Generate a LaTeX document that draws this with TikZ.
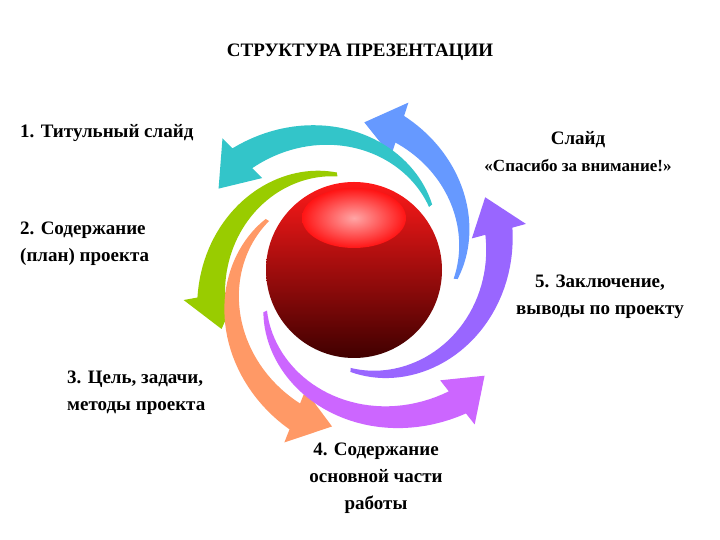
\documentclass[tikz,border=0pt]{standalone}
\usepackage{fontspec}
\setmainfont{Liberation Serif}
\begin{document}
\begin{tikzpicture}[x=1pt,y=1pt,
  lbl/.style={font=\bfseries\fontsize{19}{27}\selectfont, align=left, inner sep=0pt}]
\useasboundingbox (0,0) rectangle (720,540);
\fill[white] (0,0) rectangle (720,540);
\def\cx{354}\def\cy{270}
% #1 color, #2 a0, #3 a1, #4 r0, #5 r1, #6 w0, #7 w1, #8 head half width, #9 delta
\newcommand\swoosh[9]{%
  \fill[#1] plot[domain=0:1,samples=40,variable=\t]
    ({\cx+(#4+(#5-#4)*\t+#6+(#7-#6)*\t)*cos(#2+(#3-#2)*\t)},
     {\cy+(#4+(#5-#4)*\t+#6+(#7-#6)*\t)*sin(#2+(#3-#2)*\t)})
    -- ({\cx+(#5+#8)*cos(#3)},{\cy+(#5+#8)*sin(#3)})
    -- ({\cx+(#5)*cos(#3+#9)},{\cy+(#5)*sin(#3+#9)})
    -- ({\cx+(#5-#8)*cos(#3)},{\cy+(#5-#8)*sin(#3)})
    -- plot[domain=1:0,samples=40,variable=\t]
    ({\cx+(#4+(#5-#4)*\t-#6-(#7-#6)*\t)*cos(#2+(#3-#2)*\t)},
     {\cy+(#4+(#5-#4)*\t-#6-(#7-#6)*\t)*sin(#2+(#3-#2)*\t)}) -- cycle;}
\definecolor{cBlue}{HTML}{6699FF}
\definecolor{cCyan}{HTML}{33C5C9}
\definecolor{cGreen}{HTML}{99CC00}
\definecolor{cOrange}{HTML}{FF9966}
\definecolor{cMag}{HTML}{CC66FF}
\definecolor{cPurp}{HTML}{9966FF}
\swoosh{cBlue}{-5}{72}{102}{148}{2}{14}{28}{14}
\swoosh{cCyan}{40}{135}{100}{158}{2}{14}{28}{14}
\swoosh{cGreen}{100}{190}{97}{145}{2}{14}{28}{14}
\swoosh{cOrange}{150}{248}{100}{158}{2}{14}{28}{14}
\swoosh{cMag}{205}{308}{98}{168}{2}{14}{28}{13}
\swoosh{cPurp}{268}{375}{100}{150}{2}{14}{28}{14}
\shade[top color=red!90!white, bottom color=black!75!red] (\cx,\cy) circle (88);
\shade[inner color=red!35!white, outer color=red!92!white] (\cx,\cy+52) ellipse (52 and 30);
\node (title) at (360,488) {\bfseries\fontsize{19}{22}\selectfont СТРУКТУРА ПРЕЗЕНТАЦИИ};
\node[lbl,anchor=west] (n1) at (20,407) {1. Титульный слайд};
\node[lbl,align=center] (n6) at (578,388) {Слайд\\\fontsize{17}{24}\selectfont «Спасибо за внимание!»};
\node[lbl,anchor=west] (n2) at (20,296) {2. Содержание\\(план) проекта};
\node[lbl,align=center] (n5) at (600,243) {5. Заключение,\\выводы по проекту};
\node[lbl,anchor=west] (n3) at (67,147) {3. Цель, задачи,\\методы проекта};
\node[lbl,align=center] (n4) at (376,62) {4. Содержание\\основной части\\работы};
\end{tikzpicture}
\end{document}
